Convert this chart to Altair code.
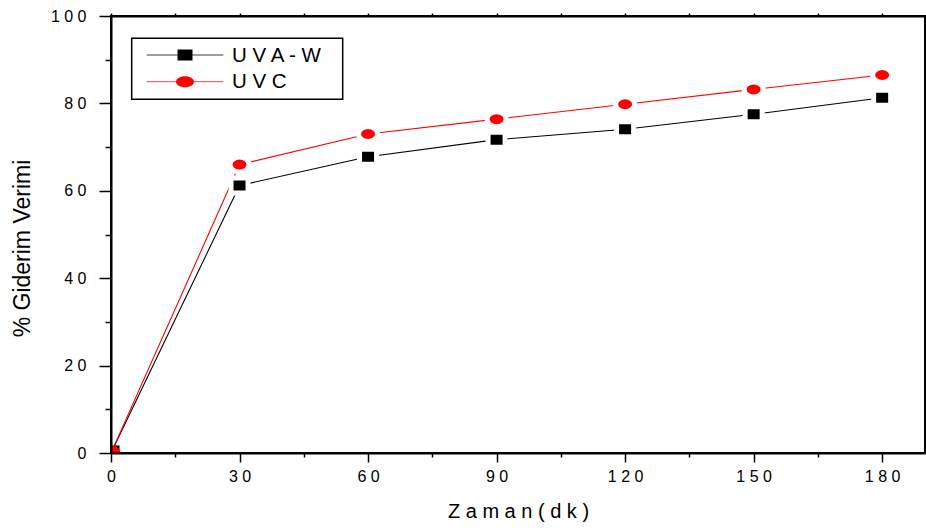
import altair as alt
import pandas as pd

# ---- data ----
time_min = [0, 30, 60, 90, 120, 150, 180]
uva_w = [0.0, 61.2, 67.8, 71.7, 74.1, 77.5, 81.3]
uvc = [0.0, 66.0, 73.0, 76.4, 79.8, 83.2, 86.5]
series_names = ["UVA-W", "UVC"]
legend_labels = ["U V A - W", "U V C"]
x_ticks = list(range(0, 181, 15))
y_ticks = list(range(0, 101, 10))

FONT = "Liberation Sans"
W, H = 814, 437
COLORS = ["#000000", "#ff0000"]
# marker paths (squashed square / ellipse) incl. white halo stroke
SQ = "M-0.895,-0.789H0.895V0.789H-0.895Z"
EL = "M-1,0A1,0.789 0 1,1 1,0A1,0.789 0 1,1 -1,0Z"
SQ_LEG = "M-0.833,-0.611H0.833V0.611H-0.833Z"
EL_LEG = "M-1,0A1,0.611 0 1,1 1,0A1,0.611 0 1,1 -1,0Z"

df = pd.DataFrame({
    "t": time_min * 2,
    "v": uva_w + uvc,
    "s": [series_names[0]] * len(time_min) + [series_names[1]] * len(time_min),
})

color_scale = alt.Scale(domain=series_names, range=COLORS)
shape_scale = alt.Scale(domain=series_names, range=[SQ, EL])
x_scale = alt.Scale(domain=[0, 190], nice=False, zero=False)

spaced = "join(split(datum.label, ''), ' ')"

x_axis = alt.Axis(
    values=x_ticks,
    labelExpr=f"datum.value % 30 === 0 ? {spaced} : ''",
    tickSize={"condition": {"test": "datum.value % 30 === 0", "value": 9}, "value": 4},
    tickWidth=1.5, tickColor="black",
    domainWidth=2, domainColor="black",
    labelFont=FONT, labelFontSize=16, labelColor="black",
    labelPadding=6, labelFlush=False, labelOverlap=False,
    grid=False, zindex=1,
    title="Z a m a n ( d k )", titleFont=FONT, titleFontSize=20,
    titleFontWeight="normal", titleColor="black",
    titleX=W / 2, titleY=64, titleAlign="center", titleBaseline="alphabetic",
)
y_axis = alt.Axis(
    values=y_ticks,
    labelExpr=f"datum.value % 20 === 0 ? {spaced} : ''",
    tickSize={"condition": {"test": "datum.value % 20 === 0", "value": 12}, "value": 6},
    tickWidth=1.5, tickColor="black",
    domainWidth=2, domainColor="black",
    labelFont=FONT, labelFontSize=16, labelColor="black",
    labelPadding=13, labelFlush=False, labelOverlap=False,
    grid=False, zindex=1,
    title="% Giderim Verimi", titleFont=FONT, titleFontSize=23,
    titleFontWeight="normal", titleColor="black",
    titleX=-89, titleY=232, titleAngle=270, titleAlign="center", titleBaseline="middle",
)

X = alt.X("t:Q", scale=x_scale, axis=x_axis)
X_noaxis = alt.X("t:Q", scale=x_scale, axis=None)
Y = alt.Y("v:Q", scale=alt.Scale(domain=[0, 100], nice=False), axis=y_axis)

base = alt.Chart(df)

lines = base.mark_line(strokeWidth=1.1, clip=True).encode(
    x=X, y=Y,
    color=alt.Color("s:N", scale=color_scale, legend=None),
    order=alt.Order("t:Q"),
)
points = base.mark_point(filled=True, size=361, opacity=1, stroke="white",
                         clip=True).encode(
    x=X_noaxis, y=Y,
    fill=alt.Fill("s:N", scale=color_scale, legend=None),
    shape=alt.Shape("s:N", scale=shape_scale, legend=None),
    strokeWidth=alt.condition("datum.t === 0", alt.value(0), alt.value(5)),
)

top_axis = base.mark_point(opacity=0).encode(
    x=alt.X("t:Q", scale=x_scale,
            axis=alt.Axis(orient="top", values=x_ticks, labels=False, tickSize=3,
                          tickWidth=1.5, tickColor="black", domainWidth=2,
                          domainColor="black", grid=False, title=None, zindex=1)),
    y=Y,
)

# ---- legend (drawn as a boxed key in the upper left) ----
one = pd.DataFrame({"k": [0]})
legend_layers = [
    alt.Chart(one).mark_rect(fill="white", stroke="black", strokeWidth=1.5).encode(
        x=alt.value(20.7), x2=alt.value(231.7), y=alt.value(22.3), y2=alt.value(83.3)
    )
]
leg_y = [39.0, 65.7]
leg_shapes = [SQ_LEG, EL_LEG]
for i, name in enumerate(series_names):
    legend_layers.append(
        alt.Chart(one).mark_rule(color=COLORS[i], strokeWidth=1, opacity=0.75).encode(
            x=alt.value(35.7), x2=alt.value(112.3), y=alt.value(leg_y[i])
        )
    )
    legend_layers.append(
        alt.Chart(one).mark_point(filled=True, size=324, opacity=1, shape=leg_shapes[i],
                                  color=COLORS[i]).encode(
            x=alt.value(74), y=alt.value(leg_y[i])
        )
    )
    legend_layers.append(
        alt.Chart(one).mark_text(font=FONT, fontSize=20.5, align="left", baseline="middle",
                                 color="black", text=legend_labels[i]).encode(
            x=alt.value(121), y=alt.value(leg_y[i] + 0.5)
        )
    )

chart = alt.layer(lines, points, top_axis, *legend_layers).resolve_axis(
    x="independent"
).properties(
    width=W, height=H,
    autosize=alt.AutoSizeParams(type="none"),
    padding={"left": 111, "top": 16, "right": 1, "bottom": 77},
    background="white",
).configure_view(stroke="black", strokeWidth=2)

chart.save("out.html", embed_options={"renderer": "svg", "actions": False})
